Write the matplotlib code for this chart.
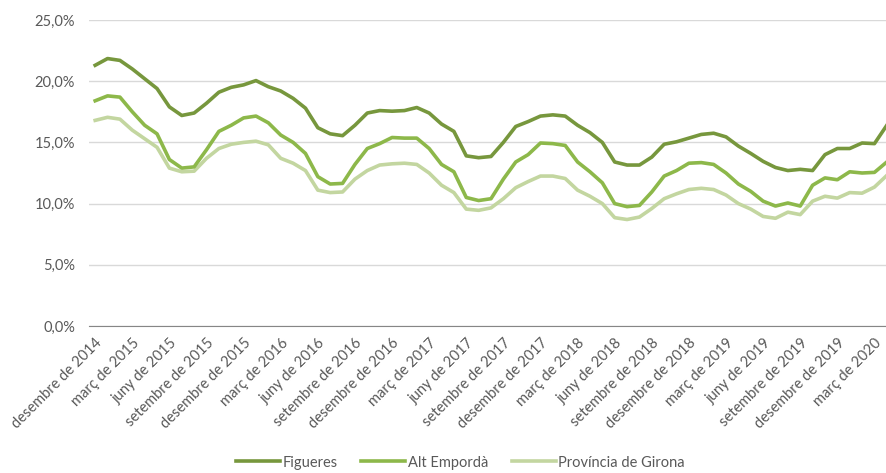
import matplotlib.pyplot as plt
from matplotlib.ticker import FuncFormatter

# months from desembre 2014 to abril 2020 (65 points)
mesos = ['gener', 'febrer', 'març', 'abril', 'maig', 'juny', 'juliol',
         'agost', 'setembre', 'octubre', 'novembre', 'desembre']
labels = ['desembre de 2014']
for any_ in range(2015, 2021):
    for m in mesos:
        labels.append(m + ' de ' + str(any_))
labels = labels[:65]

figueres = [21.3, 21.85, 21.7, 21.0, 20.2, 19.4, 17.9, 17.2, 17.4, 18.2,
            19.1, 19.5, 19.7, 20.05, 19.55, 19.2, 18.6, 17.8, 16.2, 15.7,
            15.55, 16.4, 17.4, 17.6, 17.55, 17.6, 17.85, 17.4, 16.5, 15.9,
            13.9, 13.75, 13.85, 15.0, 16.3, 16.7, 17.15, 17.25, 17.15, 16.4,
            15.8, 15.0, 13.4, 13.15, 13.15, 13.8, 14.85, 15.05, 15.35, 15.65,
            15.75, 15.45, 14.7, 14.1, 13.45, 12.95, 12.7, 12.8, 12.7, 14.0,
            14.5, 14.5, 14.95, 14.9, 16.4]
alt_emporda = [18.4, 18.8, 18.7, 17.5, 16.4, 15.7, 13.6, 12.9, 13.0, 14.4,
               15.9, 16.4, 17.0, 17.15, 16.6, 15.6, 15.0, 14.1, 12.2, 11.6,
               11.65, 13.2, 14.5, 14.9, 15.4, 15.35, 15.35, 14.5, 13.2, 12.6,
               10.5, 10.25, 10.4, 12.0, 13.4, 14.0, 14.95, 14.9, 14.75, 13.4,
               12.6, 11.7, 10.0, 9.75, 9.85, 10.95, 12.25, 12.7, 13.3, 13.35,
               13.2, 12.5, 11.6, 11.0, 10.2, 9.8, 10.05, 9.8, 11.5, 12.1,
               11.95, 12.6, 12.5, 12.55, 13.4]
girona = [16.8, 17.05, 16.9, 16.0, 15.3, 14.6, 12.9, 12.6, 12.65, 13.7,
          14.5, 14.85, 15.0, 15.1, 14.8, 13.7, 13.3, 12.7, 11.1, 10.9,
          10.95, 12.0, 12.7, 13.15, 13.25, 13.3, 13.2, 12.5, 11.5, 10.9,
          9.55, 9.45, 9.65, 10.4, 11.3, 11.8, 12.25, 12.25, 12.05, 11.1,
          10.6, 10.0, 8.85, 8.7, 8.9, 9.6, 10.4, 10.8, 11.15, 11.25,
          11.15, 10.7, 10.0, 9.55, 8.95, 8.8, 9.3, 9.1, 10.2, 10.6,
          10.45, 10.9, 10.85, 11.35, 12.3]

plt.rcParams['font.family'] = ['Lato', 'DejaVu Sans']

fig = plt.figure(figsize=(8.86, 4.73), dpi=100)
ax = fig.add_axes([89 / 886, 1 - 326 / 473, 804 / 886, 306 / 473])

x = list(range(len(labels)))
ax.plot(x, girona, color='#c3d6a0', lw=2.6, label='Província de Girona', zorder=3)
ax.plot(x, alt_emporda, color='#8db84a', lw=2.6, label='Alt Empordà', zorder=4)
ax.plot(x, figueres, color='#77973d', lw=2.6, label='Figueres', zorder=5)

ax.set_xlim(-0.5, 64.5)
ax.set_ylim(0, 25)
ax.set_yticks([0, 5, 10, 15, 20, 25])
ax.yaxis.set_major_formatter(FuncFormatter(lambda v, p: ('%.1f%%' % v).replace('.', ',')))
ax.yaxis.grid(True, color='#d9d9d9', lw=1)
ax.set_axisbelow(True)

ax.set_xticks(x[::3])
ax.set_xticklabels(labels[::3], rotation=45, ha='right', va='top',
                   rotation_mode='anchor')

for s in ['top', 'right', 'left']:
    ax.spines[s].set_visible(False)
ax.spines['bottom'].set_color('#868686')
ax.tick_params(axis='both', length=0, labelsize=10.5, labelcolor='#595959')
ax.tick_params(axis='y', pad=10)
ax.tick_params(axis='x', pad=7)

h, l = ax.get_legend_handles_labels()
fig.legend(h[::-1], l[::-1], loc='center', bbox_to_anchor=(0.52, 0.022),
           ncol=3, frameon=False, fontsize=10.5, handlelength=3.0,
           handletextpad=0.2, columnspacing=1.6, labelcolor='#595959')

plt.savefig('out.png', dpi=100)
